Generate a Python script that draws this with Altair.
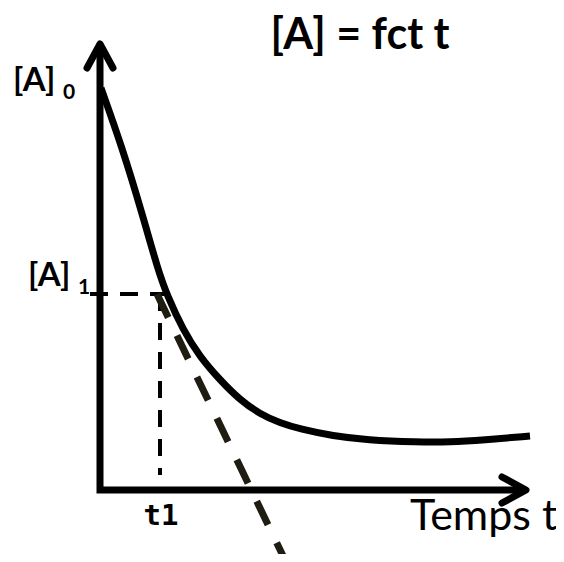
import altair as alt
import pandas as pd

# ---- data (t in arbitrary time units, c = [A] in arbitrary concentration units)
curve_t = [0.1, 2.2, 4.2, 5.8, 6.7, 8.3, 10.0, 12.0, 14.0, 16.0, 18.0, 20.0, 23.3, 26.7, 31.7, 35.0, 38.3, 43.0]
curve_c = [4.02, 3.43, 2.77, 2.20, 1.95, 1.60, 1.33, 1.10, 0.90, 0.76, 0.67, 0.61, 0.54, 0.50, 0.48, 0.48, 0.50, 0.54]

tangent_t = [5.7, 18.5]
tangent_c = [1.96, -0.70]

t1 = 6.0
A1 = 1.96
A0 = 4.02

axes_t = [0.0, 0.0, 42.6]
axes_c = [4.46, 0.0, 0.0]

arrow_group = ["y", "y", "y", "x", "x", "x"]
arrow_t = [-1.3, 0.0, 1.3, 40.2, 42.6, 40.2]
arrow_c = [4.22, 4.46, 4.22, 0.13, 0.0, -0.13]

XDOM = [-9.2, 45.6]
YDOM = [-0.64, 4.82]

xs = alt.Scale(domain=XDOM, nice=False, zero=False)
ys = alt.Scale(domain=YDOM, nice=False, zero=False)

def X(f="t"):
    return alt.X(f"{f}:Q", scale=xs, axis=None)

def Y(f="c"):
    return alt.Y(f"{f}:Q", scale=ys, axis=None)

curve_df = pd.DataFrame({"t": curve_t, "c": curve_c})
tan_df = pd.DataFrame({"t": tangent_t, "c": tangent_c})
axes_df = pd.DataFrame({"t": axes_t, "c": axes_c, "o": range(len(axes_t))})
arrow_df = pd.DataFrame({"t": arrow_t, "c": arrow_c, "g": arrow_group, "o": range(len(arrow_t))})
hdash_df = pd.DataFrame({"t": [-1.0, 7.2], "c": [A1, A1]})
vdash_df = pd.DataFrame({"t": [t1, t1], "c": [A1, 0.15]})

axes = alt.Chart(axes_df).mark_line(color="black", strokeWidth=7, strokeJoin="miter", strokeCap="butt").encode(
    x=X(), y=Y(), order="o:Q")
arrows = alt.Chart(arrow_df).mark_line(color="black", strokeWidth=7, strokeJoin="round", strokeCap="round").encode(
    x=X(), y=Y(), detail="g:N", order="o:Q")
curve = alt.Chart(curve_df).mark_line(color="black", strokeWidth=7, interpolate="basis").encode(x=X(), y=Y())
tangent = alt.Chart(tan_df).mark_line(color="#1f1c12", strokeWidth=7, strokeDash=[26, 20]).encode(x=X(), y=Y())
hdash = alt.Chart(hdash_df).mark_line(color="black", strokeWidth=4, strokeDash=[18, 12]).encode(x=X(), y=Y())
vdash = alt.Chart(vdash_df).mark_line(color="black", strokeWidth=4, strokeDash=[17, 12]).encode(x=X(), y=Y())

def label(text, t, c, size, bold=True, font="Lato", align="left"):
    df = pd.DataFrame({"t": [t], "c": [c], "s": [text]})
    return alt.Chart(df).mark_text(
        font=font, fontSize=size, fontWeight="bold" if bold else "normal",
        align=align, baseline="alphabetic", color="black"
    ).encode(x=X(), y=Y(), text="s:N")

title = label("[A] = fct t", 26.0, 4.41, 43, align="center")
a0 = label("[A]", -8.7, 3.99, 33)
a0s = label("0", -3.7, 3.91, 21)
a1 = label("[A]", -7.2, 2.04, 33)
a1s = label("1", -2.2, 1.96, 21)
t1l = label("t1", 6.1, -0.35, 29, font="DejaVu Sans Mono", align="center")
temps = label("Temps t", 31.0, -0.40, 43, bold=False)

chart = alt.layer(
    hdash, vdash, axes, arrows, curve, tangent, title, a0, a0s, a1, a1s, t1l, temps
).properties(
    width=548, height=546, autosize=alt.AutoSizeParams(type="none"), padding=0
).configure_view(stroke=None)

chart.save("out.html", embed_options={"renderer": "svg", "actions": False})
